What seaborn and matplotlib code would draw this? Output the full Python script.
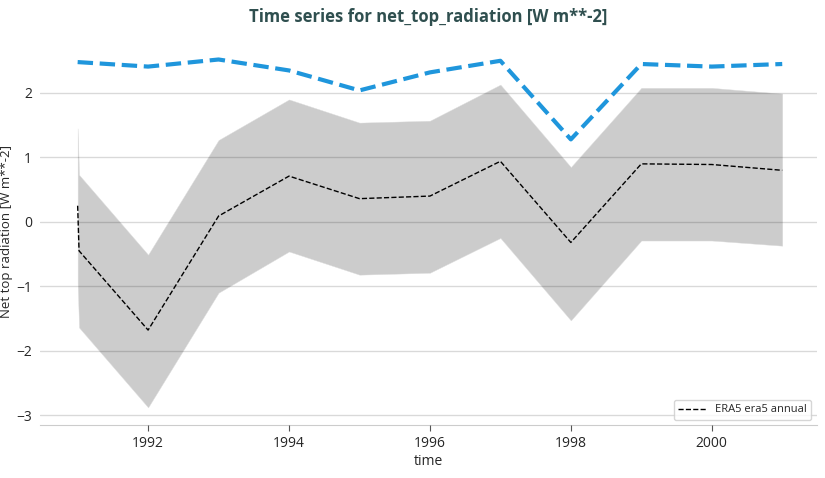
import matplotlib
matplotlib.use("Agg")
import matplotlib.pyplot as plt
import seaborn as sns
import numpy as np
import pandas as pd

# values
years = [1991.0, 1991.02, 1992, 1993, 1994, 1995, 1996, 1997, 1998, 1999, 2000, 2001]
era5_mean = [0.25, -0.45, -1.68, 0.09, 0.71, 0.36, 0.40, 0.94, -0.32, 0.90, 0.89, 0.80]
era5_upper = [1.45, 0.73, -0.51, 1.27, 1.90, 1.54, 1.57, 2.13, 0.85, 2.08, 2.08, 1.99]
era5_lower = [-0.95, -1.64, -2.88, -1.10, -0.46, -0.82, -0.79, -0.25, -1.53, -0.29, -0.29, -0.37]

ref_years = [1991, 1992, 1993, 1994, 1995, 1996, 1997, 1998, 1999, 2000, 2001]
ref_values = [2.48, 2.41, 2.52, 2.35, 2.04, 2.32, 2.50, 1.28, 2.45, 2.41, 2.45]

xticks = [1992, 1994, 1996, 1998, 2000]

sns.set_style("white")
plt.rcParams['font.family'] = ['Open Sans', 'DejaVu Sans']

df = pd.DataFrame({"time": years, "mean": era5_mean})
ref_df = pd.DataFrame({"time": ref_years, "value": ref_values})

fig, ax = plt.subplots(figsize=(8.25, 4.78), dpi=100)

ax.fill_between(years, era5_lower, era5_upper, color="#cccccc", linewidth=0.3,
                edgecolor="#dddddd", zorder=1)
sns.lineplot(data=df, x="time", y="mean", ax=ax, color="black", linestyle="--",
             linewidth=1, label="ERA5 era5 annual", zorder=3)
sns.lineplot(data=ref_df, x="time", y="value", ax=ax, color="#1f96dc", linestyle="--",
             linewidth=3, dashes=(3.2, 1.6), zorder=3, legend=False)

ax.set_xlim(1990.46, 2001.49)
ax.set_ylim(-3.16, 2.85)
ax.set_xticks(xticks)
ax.set_yticks([-3, -2, -1, 0, 1, 2])
ax.yaxis.grid(True, color="black", alpha=0.15, linewidth=1)
ax.set_axisbelow(False)

for s in ["top", "right", "left"]:
    ax.spines[s].set_visible(False)
ax.spines["bottom"].set_color("#cccccc")
ax.tick_params(axis="x", bottom=True, length=4, color="#555555", labelsize=10)
ax.tick_params(axis="y", left=False, labelsize=10, pad=2)

ax.set_xlabel("time", fontsize=10, labelpad=2)
ax.set_ylabel("Net top radiation [W m**-2]", fontsize=9.5, labelpad=2)
ax.set_title("Time series for net_top_radiation [W m**-2]", fontsize=12,
             fontweight="bold", color="#2f4f4f", pad=12)

ax.legend(loc="lower right", fontsize=8, frameon=True, handlelength=2.5)

plt.subplots_adjust(left=0.048, right=0.99, top=0.92, bottom=0.11)
fig.savefig("out.png", dpi=100)
